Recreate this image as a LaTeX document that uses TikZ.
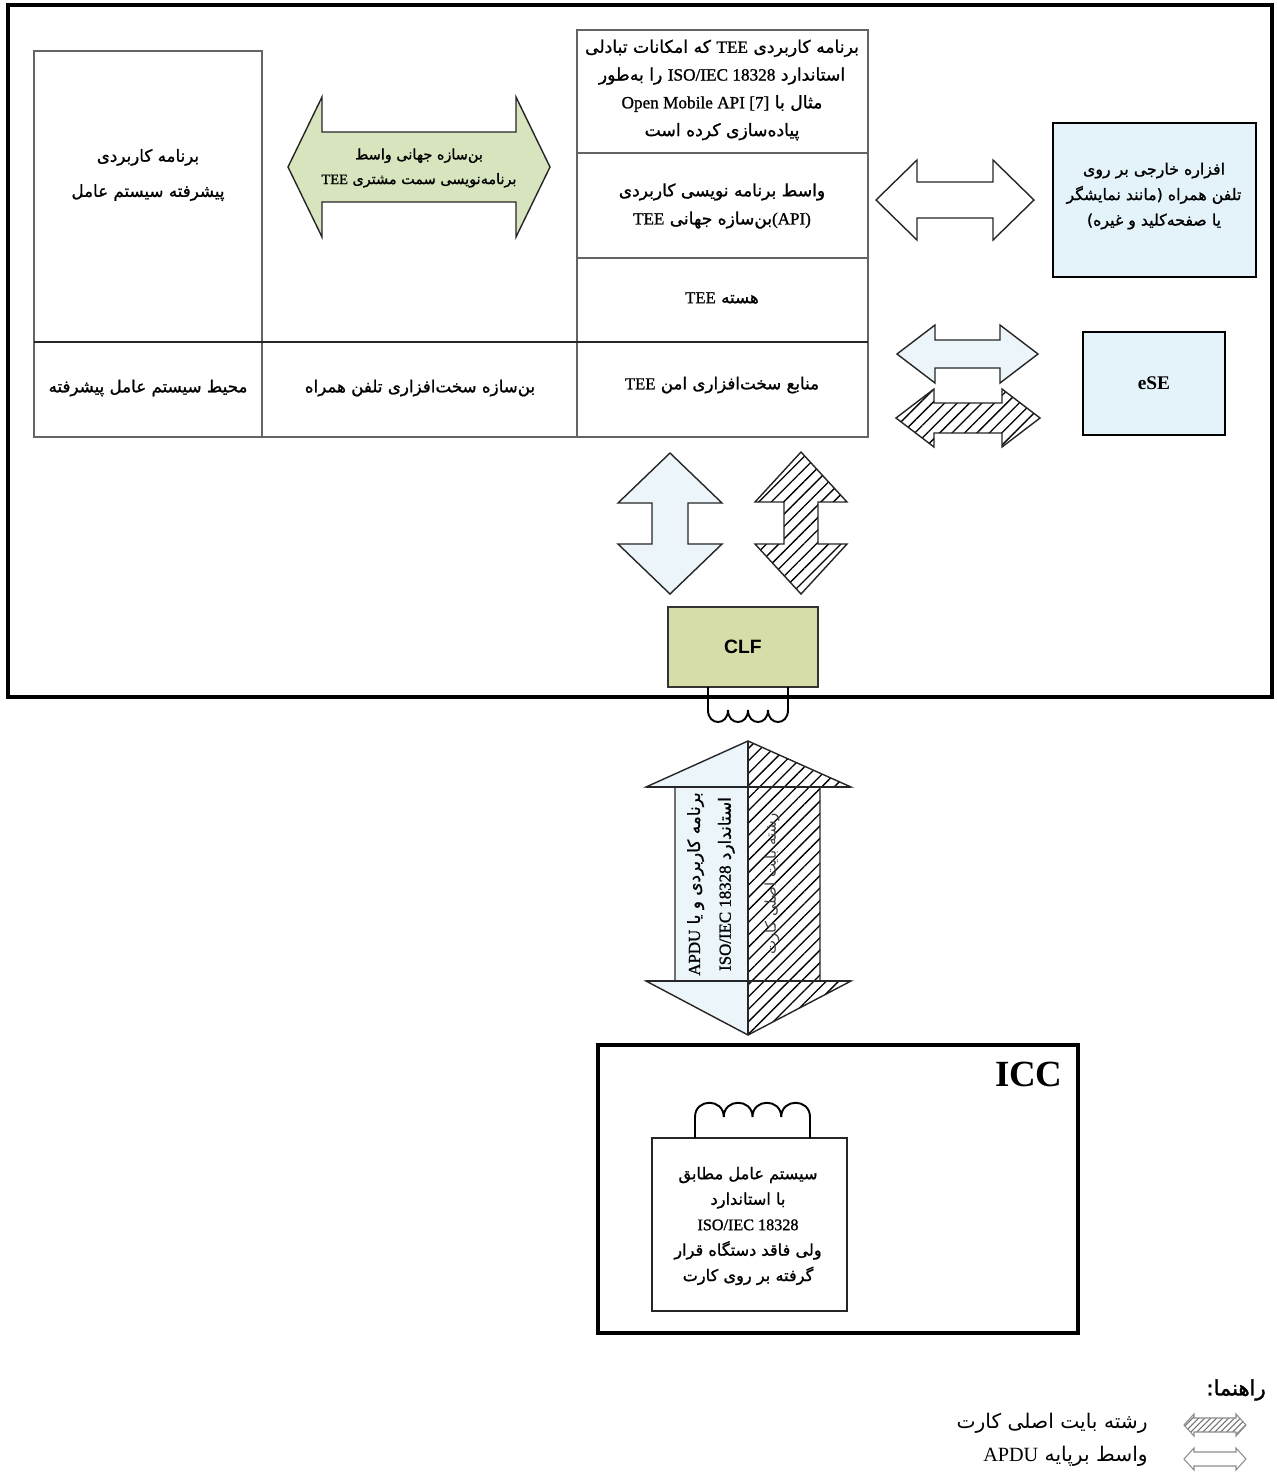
\documentclass[tikz,border=0pt]{standalone}
\usepackage{fontspec}
\usetikzlibrary{patterns.meta}
\TeXXeTstate=1
\newfontfamily\fafont[Script=Arabic,FakeBold=1.1]{DejaVu Sans}
\newfontfamily\faplain[Script=Arabic]{DejaVu Sans}
\newfontfamily\fabold[Script=Arabic,FakeBold=1.8]{DejaVu Sans}
\newfontfamily\serifL[FakeBold=1.1]{Liberation Serif}
\newfontfamily\serifP{Liberation Serif}
\newfontfamily\sansL{Liberation Sans}
\newcommand\zw{^^^^200c}
\newcommand\rtlline[1]{\beginR #1\endR}
\newcommand\ltrbit[1]{\beginL{\serifL #1}\endL}
\newcommand\ltrplain[1]{\beginL{\serifP #1}\endL}
% double arrows: centre x, centre y, half length, head length, head half-size, shaft half-size
\newcommand\hdarrow[6]{({#1-#3},{#2}) -- ({#1-#3+#4},{#2-#5}) -- ({#1-#3+#4},{#2-#6}) -- ({#1+#3-#4},{#2-#6}) -- ({#1+#3-#4},{#2-#5}) -- ({#1+#3},{#2}) -- ({#1+#3-#4},{#2+#5}) -- ({#1+#3-#4},{#2+#6}) -- ({#1-#3+#4},{#2+#6}) -- ({#1-#3+#4},{#2+#5}) -- cycle}
\newcommand\vdarrow[6]{({#1},{#2-#3}) -- ({#1+#5},{#2-#3+#4}) -- ({#1+#6},{#2-#3+#4}) -- ({#1+#6},{#2+#3-#4}) -- ({#1+#5},{#2+#3-#4}) -- ({#1},{#2+#3}) -- ({#1-#5},{#2+#3-#4}) -- ({#1-#6},{#2+#3-#4}) -- ({#1-#6},{#2-#3+#4}) -- ({#1-#5},{#2-#3+#4}) -- cycle}
\definecolor{olivefill}{RGB}{215,228,189}
\definecolor{clffill}{RGB}{214,221,168}
\definecolor{skyfill}{RGB}{227,243,249}
\definecolor{palefill}{RGB}{236,245,250}
\definecolor{gridline}{RGB}{100,100,100}
\begin{document}
\begin{tikzpicture}[x=0.02cm,y=-0.02cm,
  frame/.style={draw=black,line width=2.4pt,line join=miter},
  cellrule/.style={draw=gridline,line width=0.7pt},
  splitrule/.style={draw=black!85,line width=1.3pt},
  outline/.style={draw=black!85,line width=0.8pt,line join=miter},
  hatch/.style={pattern={Lines[angle=45,distance=5pt,line width=0.75pt]},pattern color=black},
  minihatch/.style={pattern={Lines[angle=45,distance=2.4pt,line width=0.6pt]},pattern color=black!55},
  fa/.style={align=center,inner sep=0pt},
  box/.style={draw=black,line width=1.5pt,inner sep=0pt},
  coil/.style={draw=black,line width=1.1pt}
]
\useasboundingbox (0,0) rectangle (1276,1472);
\fill[white] (0,0) rectangle (1276,1472);

% ---------- handset frame ----------
\draw[frame] (8,5) rectangle (1272,697);

% ---------- table of the handset ----------
\draw[cellrule] (34,51) rectangle (262,437);
\draw[cellrule] (577,30) rectangle (868,437);
\draw[cellrule] (262,437) -- (577,437);
\draw[cellrule] (577,153) -- (868,153);
\draw[cellrule] (577,258) -- (868,258);
\draw[splitrule] (34,342) -- (868,342);

\node[fa,font=\fafont\fontsize{9.5}{20}\selectfont] (osapp) at (148,175)
  {\rtlline{برنامه کاربردی}\\\rtlline{پیشرفته سیستم عامل}};
\node[fa,font=\fafont\fontsize{9.5}{15}\selectfont] (osenv) at (148,388)
  {\rtlline{محیط سیستم عامل پیشرفته}};
\node[fa,font=\fafont\fontsize{9.5}{15}\selectfont] (hwbase) at (420,388)
  {\rtlline{بن\zw سازه سخت\zw افزاری تلفن همراه}};

\node[fa,font=\fafont\fontsize{9.8}{15.8}\selectfont] (teeapp) at (722,90)
  {\rtlline{برنامه کاربردی \ltrbit{TEE} که امکانات تبادلی}\\
   \rtlline{استاندارد \ltrbit{ISO/IEC 18328} را به\zw طور}\\
   \rtlline{مثال با \ltrbit{Open Mobile API [7]}}\\
   \rtlline{پیاده\zw سازی کرده است}};
\node[fa,font=\fafont\fontsize{9.7}{16}\selectfont] (teeapi) at (722,206)
  {\rtlline{واسط برنامه نویسی کاربردی}\\
   \rtlline{\ltrbit{(API)}بن\zw سازه جهانی \ltrbit{TEE}}};
\node[fa,font=\fafont\fontsize{9.5}{15}\selectfont] (teecore) at (722,298)
  {\rtlline{هسته \ltrbit{TEE}}};
\node[fa,font=\fafont\fontsize{9.5}{15}\selectfont] (teehw) at (722,385)
  {\rtlline{منابع سخت\zw افزاری امن \ltrbit{TEE}}};

% client API arrow
\draw[outline,fill=olivefill] \hdarrow{419}{167}{131}{34}{70}{35};
\node[fa,font=\fafont\fontsize{8.2}{14}\selectfont] (clientapi) at (419,168)
  {\rtlline{بن\zw سازه جهانی واسط}\\
   \rtlline{برنامه\zw نویسی سمت مشتری \ltrbit{TEE}}};

% ---------- peripherals ----------
\node[box,fill=skyfill,minimum width=4.06cm,minimum height=3.08cm] (device) at (1154.5,200) {};
\node[fa,font=\fafont\fontsize{9}{14.5}\selectfont] (devtext) at (1154,196)
  {\rtlline{افزاره خارجی بر روی}\\
   \rtlline{تلفن همراه (مانند نمایشگر}\\
   \rtlline{یا صفحه\zw کلید و غیره)}};
\draw[outline,fill=white] \hdarrow{955}{200}{79}{41}{40}{18};

\node[box,fill=skyfill,minimum width=2.84cm,minimum height=2.06cm,
      font=\serifP\bfseries\fontsize{11}{13}\selectfont] (ese) at (1154,383.5) {eSE};
\draw[outline,fill=palefill] \hdarrow{967.5}{354}{70.5}{38}{29}{14};
\draw[outline,hatch] \hdarrow{968}{418}{72}{38}{29}{15};

% ---------- links to the contactless front-end ----------
\draw[outline,fill=palefill] \vdarrow{670}{523.5}{70.5}{50}{52}{18};
\draw[outline,hatch] \vdarrow{801}{523}{71}{50}{46}{17};

\node[draw=black!80,line width=1pt,fill=clffill,minimum width=3cm,minimum height=1.6cm,
      font=\sansL\bfseries\fontsize{11}{13}\selectfont] (clf) at (743,647) {CLF};

% antenna of the front-end
\draw[coil] (708,687) -- (708,710)
  .. controls (708,726) and (728,726) .. (728,710)
  .. controls (728,726) and (748,726) .. (748,710)
  .. controls (748,726) and (768,726) .. (768,710)
  .. controls (768,726) and (788,726) .. (788,710) -- (788,687);

% ---------- main byte-stream / APDU arrow ----------
\fill[palefill] (748,741) -- (646,787) -- (675,787) -- (675,981) -- (646,981) -- (748,1035) -- cycle;
\fill[white] (748,741) -- (851,787) -- (820,787) -- (820,981) -- (851,981) -- (748,1035) -- cycle;
\fill[hatch] (748,741) -- (851,787) -- (820,787) -- (820,981) -- (851,981) -- (748,1035) -- cycle;
\draw[outline] (748,741) -- (851,787) -- (820,787) -- (820,981) -- (851,981) -- (748,1035)
  -- (646,981) -- (675,981) -- (675,787) -- (646,787) -- cycle;
\draw[outline] (748,741) -- (748,1035);
\draw[outline] (646,787) -- (851,787);
\draw[outline] (646,981) -- (851,981);
\node[fa,rotate=90,font=\fafont\fontsize{9.6}{17.5}\selectfont] (apdutext) at (711,884)
  {\rtlline{برنامه کاربردی و یا \ltrbit{APDU}}\\
   \rtlline{استاندارد \ltrbit{ISO/IEC 18328}}};
\node[fa,rotate=90,font=\faplain\fontsize{8.5}{10}\selectfont,text=black!75] (bytetext) at (772,884)
  {\rtlline{رشته بایت اصلی کارت}};

% ---------- card ----------
\node[box,line width=1.8pt,minimum width=9.6cm,minimum height=5.76cm] (icc) at (838,1189) {};
\node[anchor=north east,inner sep=0pt,font=\serifP\bfseries\fontsize{21}{24}\selectfont] (icclabel) at (1063,1062) {ICC};
\node[draw=black!85,line width=1pt,minimum width=3.9cm,minimum height=3.46cm] (cardos) at (749.5,1224.5) {};
\node[fa,font=\fafont\fontsize{9.2}{14.5}\selectfont] (cardtext) at (748,1226)
  {\rtlline{سیستم عامل مطابق}\\
   \rtlline{با استاندارد}\\
   \rtlline{\ltrbit{ISO/IEC 18328}}\\
   \rtlline{ولی فاقد دستگاه قرار}\\
   \rtlline{گرفته بر روی کارت}};
\draw[coil] (695,1138) -- (695,1117)
  .. controls (695,1098) and (723.75,1098) .. (723.75,1117)
  .. controls (723.75,1098) and (752.5,1098) .. (752.5,1117)
  .. controls (752.5,1098) and (781.25,1098) .. (781.25,1117)
  .. controls (781.25,1098) and (810,1098) .. (810,1117) -- (810,1138);

% ---------- legend ----------
\node[anchor=east,inner sep=0pt,font=\fabold\fontsize{12}{14}\selectfont] (legtitle) at (1266,1390)
  {\rtlline{راهنما:}};
\draw[draw=black!45,line width=0.6pt,minihatch] \hdarrow{1215}{1425}{31}{10}{11}{7};
\node[anchor=east,inner sep=0pt,font=\faplain\fontsize{11.5}{14}\selectfont] (legbyte) at (1148,1423)
  {\rtlline{رشته بایت اصلی کارت}};
\draw[draw=black!45,line width=0.6pt,fill=white] \hdarrow{1215}{1459}{31}{10}{11}{7};
\node[anchor=east,inner sep=0pt,font=\faplain\fontsize{11.5}{14}\selectfont] (legapdu) at (1148,1456)
  {\rtlline{واسط برپایه \ltrplain{APDU}}};
\end{tikzpicture}
\end{document}
